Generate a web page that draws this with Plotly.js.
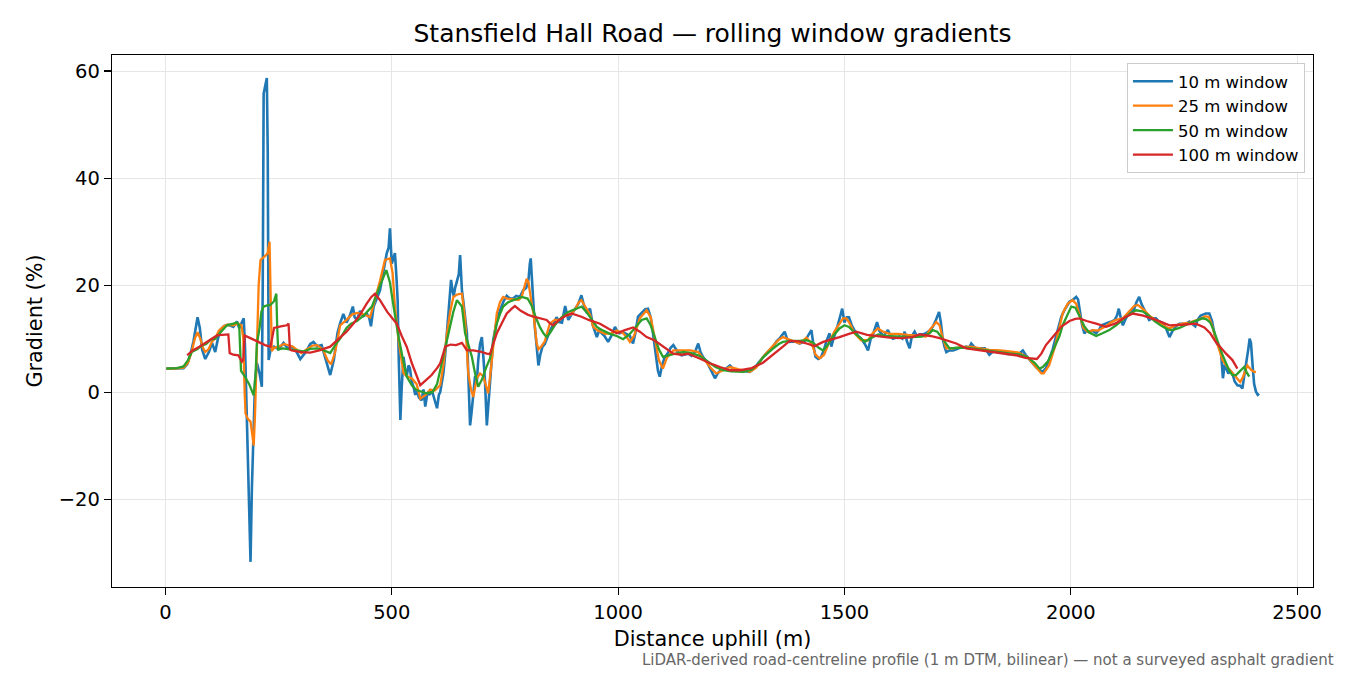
<!DOCTYPE html>
<html>
<head>
<meta charset="utf-8">
<script src="https://cdn.plot.ly/plotly-3.0.1.min.js"></script>
<style>
  html, body { margin:0; padding:0; background:#fff; }
  #chart { width:1350px; height:675px; }
</style>
</head>
<body>
<div id="chart"></div>
<script>
// distance (m), gradient (%)
const win10 = [[2,4.4],[20,4.5],[40,4.5],[48,5.2],[55,7],[62,9.5],[67,12.5],[71,14],[76,12],[81,8],[88,6.2],[96,7.5],[103,9.2],[110,7.5],[116,10],[121,11.6],[130,12.4],[139,12.6],[150,12.2],[158,13.2],[163,12],[168,12.8],[173,13.8],[176,8],[180,-5.2],[184,-20],[188,-31.7],[191,-18],[194,-8],[198,2],[202,5.5],[208,3.5],[213,1],[215,20],[217,55.8],[221,57.5],[224,58.7],[226,45],[228,6],[232,7.8],[240,8.5],[250,8],[261,9.2],[270,8.2],[280,8.5],[290,7.5],[298,6.2],[310,7.5],[320,9],[327,9.4],[335,8.6],[345,8.8],[355,6],[364,3.2],[372,6],[380,11],[386,12.9],[393,14.6],[400,13],[407,14.2],[414,16],[418,14],[423,13.5],[430,15.2],[437,14.2],[445,14.6],[450,14],[454,12.3],[460,16],[467,17.5],[474,19],[482,22.8],[489,26],[493,27],[496,30.6],[500,24],[504,25.5],[507,26],[510,22],[513,17.2],[515,7.8],[517,0],[519,-5.2],[522,1],[526,6.6],[530,4],[533,3],[537,5],[540,4.5],[544,2],[548,1],[552,-0.5],[555,0.5],[560,-1],[566,-1.5],[570,0.5],[574,-2.7],[579,0],[584,-0.5],[588,0.5],[595,-1.5],[600,-3],[604,-0.5],[607,0],[611,2],[614,3.5],[618,7],[622,11],[627,16],[631,21],[634,19],[637,18],[640,19.5],[644,21],[648,22],[651,25.6],[653,20],[655,19],[658,17],[662,14],[666,11],[669,3.5],[673,-6.2],[676,-4],[680,0],[684,3],[688,2],[691,6],[695,9],[699,10.3],[702,7],[706,2],[710,-6.2],[713,-3],[717,3],[721,7],[724,9.7],[728,11.5],[732,13.5],[740,15.5],[747,17],[754,18],[761,17.5],[768,17.5],[775,18],[783,17.8],[790,19],[797,19.5],[802,21],[805,24],[807,25],[809,22],[811,18],[814,15],[816,12.2],[820,8],[824,5],[828,7],[833,8.5],[838,9],[844,10.5],[850,11.6],[856,12.5],[864,14],[870,13.1],[876,13],[883,16.1],[890,13.5],[897,14.5],[905,15.5],[912,16.5],[919,18.1],[925,16],[930,15],[938,15.6],[944,12.5],[953,10.3],[958,11.5],[962,11.2],[970,10.5],[978,9.4],[985,10.5],[993,12.2],[998,11.4],[1003,11],[1010,11.2],[1018,10.9],[1026,10.5],[1033,9.1],[1038,11],[1044,14.1],[1052,14.8],[1060,15.5],[1066,15.6],[1072,14],[1077,11],[1083,7],[1088,4],[1092,2.9],[1097,5],[1103,6.5],[1110,7.3],[1116,8.3],[1122,8.8],[1128,8],[1134,7.3],[1140,6.9],[1148,7.1],[1155,7.2],[1162,6.8],[1170,7.5],[1177,9.1],[1182,7.5],[1188,6.5],[1195,5.8],[1203,4.5],[1208,3.5],[1214,2.6],[1220,3.5],[1225,4],[1232,4.2],[1240,4.5],[1247,5],[1255,4.3],[1262,4.1],[1270,4],[1280,3.8],[1291,3.8],[1297,4.2],[1302,4.5],[1310,5.5],[1320,6.6],[1330,7.5],[1342,8.5],[1350,9.5],[1358,10.2],[1364,11],[1368,11.3],[1373,10],[1379,9.4],[1390,9.5],[1401,9.1],[1412,9.5],[1420,10.5],[1427,11.6],[1432,8.5],[1436,6.6],[1442,6.2],[1448,6.5],[1455,8],[1460,9.5],[1467,11],[1471,8.5],[1474,9.5],[1480,11],[1485,12.5],[1490,14],[1495,15.6],[1500,13],[1505,14],[1510,14],[1516,12.5],[1522,11.6],[1530,10.5],[1537,10],[1545,9],[1552,7.8],[1558,10],[1562,10.5],[1567,12],[1572,13.1],[1577,11.5],[1581,11],[1587,10.5],[1596,11.6],[1602,10.5],[1607,10],[1615,10.2],[1622,10.4],[1628,10],[1633,11.3],[1638,9.5],[1644,8.2],[1649,10.5],[1655,11.3],[1660,10.5],[1666,10.8],[1673,10.8],[1680,11],[1688,11.5],[1695,12.2],[1702,13.5],[1709,15],[1713,13],[1717,10],[1721,8.5],[1725,7.5],[1732,7.8],[1740,7.8],[1747,8],[1755,8.3],[1762,8.3],[1769,8.5],[1775,8.3],[1780,9.1],[1786,8.5],[1791,8.2],[1800,8.2],[1810,8.2],[1816,7.5],[1820,7],[1828,7.6],[1835,7.8],[1842,7.6],[1850,7.6],[1857,7.2],[1865,7.1],[1872,7.2],[1879,7],[1886,7.2],[1894,7.8],[1900,7],[1905,6.5],[1909,6],[1916,5.5],[1923,4.7],[1930,4.2],[1938,3.8],[1945,4.5],[1952,6],[1960,8],[1967,10.3],[1973,12.5],[1979,14.1],[1987,15.5],[1997,16.9],[2005,17.3],[2012,17.8],[2016,17.3],[2020,15],[2025,12.5],[2030,11],[2035,11.5],[2041,11.2],[2048,11.5],[2056,11],[2062,11.6],[2068,12.5],[2075,12.8],[2082,13],[2090,13.2],[2097,13.5],[2102,14.3],[2106,15.6],[2110,14],[2115,12.5],[2120,13.5],[2126,14.5],[2133,15],[2140,15.6],[2145,16.8],[2151,17.8],[2156,16.5],[2162,15.5],[2168,14.3],[2173,13.5],[2180,13.8],[2188,13.8],[2195,13.2],[2202,13],[2210,12],[2218,10.3],[2225,11.5],[2232,12.3],[2240,12.8],[2247,12.8],[2255,12.8],[2262,13.2],[2269,12.8],[2275,12.3],[2280,13.5],[2287,14.3],[2292,14.5],[2298,14.7],[2306,14.7],[2312,13.3],[2317,11],[2323,9],[2328,8.5],[2332,7.2],[2336,2.6],[2340,5.2],[2343,4.5],[2348,3.5],[2352,4],[2357,3.5],[2362,2],[2368,1.3],[2374,1.2],[2379,0.7],[2383,3],[2387,5],[2392,8],[2395,10],[2398,9.2],[2402,4.5],[2405,1.5],[2409,0.1],[2413,-0.5],[2416,-0.3]];

const win25 = [[2,4.4],[20,4.4],[40,4.6],[50,5.5],[58,7.5],[65,10],[71,11.2],[77,10],[83,8.3],[88,7.5],[95,8],[103,9.5],[110,10],[118,11.5],[128,12.3],[136,12.6],[150,12.5],[161,12.8],[168,12.5],[172,10],[175,0],[177,-4],[182,-5],[188,-5.5],[192,-8],[195,-10],[198,-4],[202,10],[206,20],[210,24.7],[215,25],[221,25.5],[226,26],[230,28.1],[232,20],[235,7.7],[240,8.3],[250,8.5],[262,9],[272,8.7],[282,8.5],[292,7.8],[300,7.3],[312,8],[325,8.7],[335,8.8],[348,8],[358,6],[366,5.2],[375,7.5],[386,12.5],[400,13.5],[412,14.5],[423,14.8],[440,14.5],[452,14],[464,17.5],[474,20.8],[485,24.7],[496,25],[502,22.2],[507,16],[515,9.7],[526,3.5],[533,3],[545,2.5],[555,1.5],[563,-1.2],[575,-0.5],[585,0.5],[595,0.3],[607,1.3],[614,5],[622,11],[629,15],[636,17.8],[645,18.3],[655,18.4],[662,13.5],[669,3.5],[675,0.5],[680,-0.9],[688,2.6],[695,3.5],[702,3],[708,1],[713,-0.2],[718,3.5],[724,8.5],[732,14.7],[739,16.8],[746,17.8],[755,17.5],[768,17.3],[780,17.2],[787,17.8],[793,19.5],[798,21.2],[802,20.5],[806,18],[810,16],[813,14.7],[817,11.5],[820,9.2],[824,8],[830,8.5],[838,9.5],[849,12.8],[860,13.5],[870,13.5],[883,14.3],[895,14.5],[905,15.5],[913,16.8],[919,17.2],[928,16],[938,14.5],[945,12.2],[955,11.5],[971,10.9],[985,11],[997,11.5],[1011,11],[1020,10.2],[1026,9.4],[1035,10.5],[1048,13.8],[1063,15.3],[1072,14],[1080,10.5],[1090,6],[1099,4.4],[1108,6.5],[1122,7.8],[1140,7.8],[1160,7.8],[1177,7.5],[1190,6],[1205,4.5],[1217,3.5],[1230,4],[1247,4.7],[1265,4.3],[1280,4],[1291,3.8],[1305,4.6],[1320,6.6],[1340,8.5],[1355,9.8],[1364,10.3],[1380,9.8],[1401,9.1],[1416,10.2],[1428,9],[1436,7],[1445,6.3],[1455,7],[1467,9.5],[1479,11.5],[1489,12.8],[1497,13.8],[1504,13.8],[1512,12.8],[1522,11],[1537,9.7],[1552,9.7],[1562,11],[1574,11.9],[1585,11.3],[1600,10.9],[1620,10.9],[1640,10.7],[1660,10.6],[1680,10.4],[1688,11.6],[1696,12.5],[1703,13.1],[1710,12.5],[1716,10.5],[1725,8.2],[1740,8.2],[1760,8.4],[1780,8.5],[1800,8.2],[1820,7.9],[1845,7.8],[1865,7.6],[1885,7.4],[1905,6.5],[1923,4.7],[1935,3.5],[1940,3.5],[1952,5],[1965,8.5],[1975,12],[1982,14.7],[1993,16.5],[2004,17.2],[2012,16.5],[2019,14.5],[2028,12],[2037,11.3],[2050,11.6],[2060,11.5],[2075,12.2],[2090,13.1],[2100,13.5],[2115,13.8],[2130,15.2],[2140,16.1],[2148,16.3],[2160,15.5],[2175,14.2],[2195,13],[2210,12.2],[2218,11.9],[2232,12.5],[2247,12.8],[2262,13],[2280,13.5],[2298,14.2],[2305,14],[2312,12.5],[2320,10],[2328,7.7],[2335,6],[2343,5],[2350,4.3],[2357,3.8],[2365,2.8],[2374,1.9],[2380,2.8],[2387,4.5],[2390,5],[2398,4.2],[2405,3.8],[2409,3.8]];

const win50 = [[2,4.4],[25,4.5],[40,4.8],[50,6],[58,7.5],[70,8],[80,8.7],[90,9],[100,9.8],[110,10],[120,11],[136,12.5],[150,12.8],[158,13],[163,12.5],[165,8],[167,4],[175,3],[185,1.5],[195,-0.6],[199,3],[202,9],[208,12],[212,15],[217,16],[225,16.2],[232,16.3],[240,17],[245,18.4],[247,12],[249,8],[260,8.2],[275,8],[290,7.8],[305,7.6],[320,8.1],[335,8.2],[350,7.8],[364,7.3],[375,8.8],[386,10],[400,12],[410,12.8],[423,13.3],[440,14.5],[456,16],[466,18],[474,19.9],[488,22.8],[496,20.5],[504,16],[515,10.3],[525,6],[533,2.9],[545,1.2],[555,0.4],[577,-0.2],[590,0],[600,1.5],[614,6.6],[622,10],[629,12.2],[636,15],[644,17.2],[650,16.5],[655,16],[662,11],[670,8.5],[677,6.6],[684,3.5],[691,1],[700,2.5],[708,4.5],[717,6.3],[724,9.5],[732,12.8],[740,14.8],[746,16],[757,16.8],[768,17.2],[780,17.5],[787,17.8],[800,17.5],[810,16],[818,14],[827,12.2],[835,11],[842,10.3],[849,11],[860,12.5],[875,14],[890,15],[908,15.6],[919,16],[930,15],[942,13.5],[953,12.2],[967,11.5],[982,10.9],[997,10.5],[1011,9.9],[1025,10.8],[1040,12.3],[1052,13.5],[1063,13.8],[1072,12.5],[1080,10.5],[1090,8],[1099,6.6],[1110,6.9],[1122,7.1],[1144,7.5],[1162,7.3],[1180,6.8],[1200,5.6],[1215,4.7],[1232,4.1],[1250,3.9],[1276,3.8],[1295,4.2],[1310,5.3],[1320,6.5],[1340,8],[1355,9],[1364,9.4],[1380,9.6],[1400,9.6],[1416,9.7],[1430,9.3],[1443,8.3],[1453,7.8],[1463,8.8],[1475,10.5],[1489,11.9],[1500,12.5],[1510,12.2],[1525,10.9],[1537,9.9],[1545,9.4],[1560,10.2],[1575,10.8],[1590,10.5],[1610,10.4],[1630,10.4],[1650,10.3],[1670,10.4],[1688,11],[1695,11.6],[1705,11.3],[1715,10.2],[1725,9],[1732,8.2],[1750,8.3],[1770,8.3],[1790,8.1],[1810,7.8],[1830,7.6],[1850,7.4],[1870,7.2],[1890,7],[1905,6.5],[1920,5.5],[1931,4.4],[1938,4.7],[1950,5.8],[1965,8.5],[1975,10.5],[1982,12.5],[1992,14.5],[2001,16],[2010,15.8],[2020,14],[2030,12.3],[2040,11.2],[2056,10.5],[2070,11],[2085,11.6],[2100,12.5],[2115,13.5],[2130,14.6],[2144,15.3],[2158,15.1],[2170,14.5],[2185,13.3],[2200,12.4],[2215,11.7],[2225,11.6],[2240,12],[2260,12.8],[2280,13.5],[2291,13.8],[2300,13.6],[2308,13],[2316,11.5],[2324,9.4],[2334,7.2],[2343,5.4],[2350,4],[2357,3.2],[2365,3.2],[2372,3.8],[2378,4.3],[2383,4.7],[2388,3.8],[2394,2.9]];

const win100 = [[48,6.9],[60,7.8],[75,8.5],[90,9.3],[105,10.2],[114,10.6],[125,10.7],[139,10.8],[142,7.3],[150,7],[161,6.9],[169,5.7],[172,6],[175,10.6],[190,10],[205,9.4],[220,8.8],[232,8.5],[236,10.5],[240,12],[255,12.3],[268,12.5],[272,12.8],[275,8],[279,7.8],[290,7.6],[300,7.5],[320,7.4],[340,7.8],[364,8.5],[380,9.8],[386,10.3],[400,11.3],[415,12.8],[430,14.5],[445,16.6],[455,17.8],[463,18.4],[474,17.2],[490,15],[511,12.8],[522,10.5],[533,8.5],[544,5.5],[555,2.9],[563,1.3],[575,2.2],[588,3.2],[600,4.5],[607,5.4],[613,7],[618,8.5],[630,8.9],[642,8.8],[655,9.2],[666,7.8],[680,7.8],[695,7.6],[710,7.2],[717,7.1],[724,9],[732,11],[745,13.2],[754,14.7],[765,15.6],[772,16.1],[785,15.2],[800,14.5],[813,14.1],[828,13.8],[842,13.5],[849,12.9],[856,12.5],[870,13.5],[885,14.3],[897,14.7],[910,14.4],[919,14.1],[935,13.5],[960,12.8],[980,11.8],[997,11],[1015,11.6],[1033,12.1],[1048,11.3],[1063,10.3],[1080,9.7],[1100,8.5],[1122,7.2],[1140,7],[1155,7.2],[1180,6.3],[1203,5.4],[1225,4.7],[1247,4.1],[1270,4.1],[1295,4.5],[1320,5.5],[1340,6.8],[1364,8.5],[1379,9.6],[1400,9.5],[1420,9],[1434,8.6],[1453,9.4],[1470,9.8],[1489,10.3],[1510,10.9],[1526,11.3],[1550,10.7],[1575,10.4],[1600,10.2],[1625,10.1],[1650,10.3],[1666,10.8],[1690,10.5],[1710,10.1],[1725,9.7],[1747,9.1],[1769,8.2],[1795,7.9],[1820,7.7],[1850,7.3],[1879,6.9],[1900,6.4],[1915,6.3],[1925,6.2],[1935,7.2],[1945,8.8],[1955,9.8],[1967,11],[1980,12.3],[1997,13.3],[2010,13.7],[2019,13.8],[2035,13.3],[2056,12.8],[2078,12.2],[2100,12.9],[2120,14],[2137,14.7],[2160,14.3],[2188,13.5],[2218,12.5],[2245,12.6],[2276,12.8],[2295,12.1],[2308,11],[2320,9.4],[2332,8.2],[2343,7.2],[2357,6],[2368,4.4]];

const seriesNames  = ['10 m window', '25 m window', '50 m window', '100 m window'];
const seriesColors = ['#1f77b4', '#ff7f0e', '#2ca02c', '#d62728'];
const xTicks = [0, 500, 1000, 1500, 2000, 2500];
const yTicks = [-20, 0, 20, 40, 60];

const FONT = 'DejaVu Sans, Verdana, sans-serif';

const traces = [win10, win25, win50, win100].map((pts, i) => ({
  type: 'scatter', mode: 'lines',
  name: seriesNames[i],
  x: pts.map(p => p[0]),
  y: pts.map(p => p[1]),
  line: { color: seriesColors[i], width: i === 0 ? 2.6 : 2.3 },
  hoverinfo: 'skip'
}));

const axisBase = {
  showline: true, mirror: true, linecolor: '#000', linewidth: 1.2,
  ticks: 'outside', ticklen: 7, tickwidth: 1.2, tickcolor: '#000',
  showgrid: true, gridcolor: '#e6e6e6', gridwidth: 1,
  zeroline: false,
  tickfont: { family: FONT, size: 19.5, color: '#000' }
};

const layout = {
  width: 1350, height: 675,
  margin: { l: 112, r: 37, t: 55, b: 88 },
  paper_bgcolor: '#fff', plot_bgcolor: '#fff',
  font: { family: FONT, color: '#000' },
  title: {
    text: 'Stansfield Hall Road — rolling window gradients',
    font: { family: FONT, size: 25, color: '#000' },
    x: 0.5, xref: 'paper', xanchor: 'center',
    y: 1 - 33 / 675, yref: 'container', yanchor: 'middle'
  },
  xaxis: Object.assign({}, axisBase, {
    range: [-118, 2535], tickvals: xTicks,
    title: { text: 'Distance uphill (m)', font: { family: FONT, size: 20.8, color: '#000' }, standoff: 8 }
  }),
  yaxis: Object.assign({}, axisBase, {
    range: [-36.4, 63.0], tickvals: yTicks,
    title: { text: 'Gradient (%)', font: { family: FONT, size: 20.8, color: '#000' }, standoff: 10 }
  }),
  showlegend: true,
  legend: {
    x: 0.9933, xanchor: 'right', y: 0.985, yanchor: 'top',
    bgcolor: '#fff', bordercolor: '#cccccc', borderwidth: 1,
    font: { family: FONT, size: 16.5, color: '#000' },
    itemwidth: 40
  },
  annotations: [{
    text: 'LiDAR-derived road-centreline profile (1 m DTM, bilinear) — not a surveyed asphalt gradient',
    xref: 'paper', yref: 'paper', x: (1336 - 112) / 1201, y: -(660 - 587) / 532,
    xanchor: 'right', yanchor: 'middle', showarrow: false,
    font: { family: FONT, size: 15, color: '#666' }
  }]
};

Plotly.newPlot('chart', traces, layout, { displayModeBar: false, staticPlot: true });
</script>
</body>
</html>
